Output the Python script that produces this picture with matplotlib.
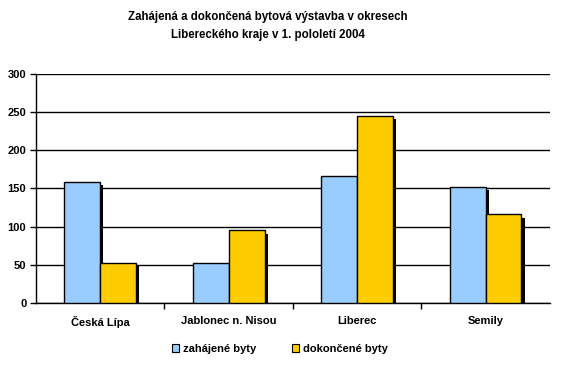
import numpy as np
import matplotlib
matplotlib.use("Agg")
import matplotlib.pyplot as plt
import matplotlib.patheffects as pe
from matplotlib.patches import Patch

districts = ["Česká Lípa", "Jablonec n. Nisou", "Liberec", "Semily"]
started = [158, 52, 166, 152]
finished = [52, 95, 245, 116]
series_names = ["zahájené byty", "dokončené byty"]
yticks = [0, 50, 100, 150, 200, 250, 300]

BLUE = "#99CCFF"
YELLOW = "#FFCC00"

plt.rcParams["font.family"] = ["Liberation Sans", "DejaVu Sans"]
plt.rcParams["font.weight"] = "bold"

fig = plt.figure(figsize=(5.74, 3.66), dpi=100)
ax = fig.add_axes([0.0627, 0.172, 0.895, 0.626])

x = np.arange(len(districts))
w = 0.28
shadow = [pe.SimplePatchShadow(offset=(2.2, -2.2), shadow_rgbFace="black", alpha=1.0), pe.Normal()]
for vals, off, col in [(started, -w / 2, BLUE), (finished, w / 2, YELLOW)]:
    bars = ax.bar(x + off, vals, w, color=col, edgecolor="black", linewidth=1.0, zorder=3)
    for b in bars:
        b.set_path_effects(shadow)

ax.set_xlim(-0.5, len(districts) - 0.5)
ax.set_ylim(0, 300)
ax.set_yticks(yticks)
ax.yaxis.grid(True, color="black", linewidth=1.0, zorder=0)
ax.set_axisbelow(True)
for s in ["top", "right"]:
    ax.spines[s].set_visible(False)
for s in ["left", "bottom"]:
    ax.spines[s].set_linewidth(1.0)

ax.set_xticks(x)
ax.set_xticklabels(districts, fontsize=8, fontweight="bold")
ax.tick_params(axis="x", which="major", length=0, pad=9)
ax.set_xticks(np.arange(0.5, len(districts) - 0.5, 1), minor=True)
ax.tick_params(axis="x", which="minor", length=4, width=1, direction="out")
ax.tick_params(axis="y", length=4, width=1, labelsize=8, pad=3)
for t in ax.get_yticklabels():
    t.set_fontweight("bold")

fig.text(0.467, 0.928, "Zahájená a dokončená bytová výstavba v okresech\nLibereckého kraje v 1. pololetí 2004",
         ha="center", va="center", fontsize=8.3, fontweight="bold", linespacing=1.65)

handles = [Patch(facecolor=BLUE, edgecolor="black", linewidth=0.8),
           Patch(facecolor=YELLOW, edgecolor="black", linewidth=0.8)]
fig.legend(handles, series_names, loc="center", bbox_to_anchor=(0.487, 0.046), ncol=2, frameon=False,
           handlelength=0.7, handleheight=0.7, handletextpad=0.3, columnspacing=3.2,
           prop={"weight": "bold", "size": 8})

fig.savefig("out.png", dpi=100)
